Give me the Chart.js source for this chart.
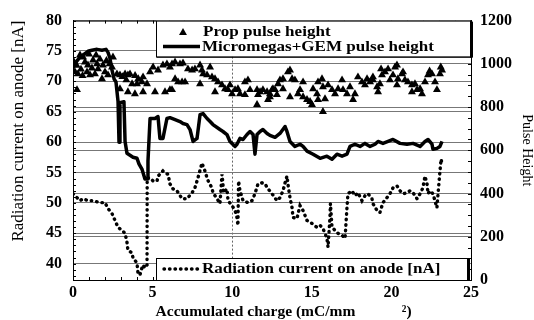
<!DOCTYPE html>
<html>
<head>
<meta charset="utf-8">
<script src="https://cdn.jsdelivr.net/npm/chart.js@4.4.0/dist/chart.umd.min.js"></script>
<style>
  html, body { margin: 0; padding: 0; background: #fff; }
  #wrap { width: 534px; height: 320px; }
</style>
</head>
<body>
<div id="wrap"><canvas id="chart" width="534" height="320"></canvas></div>
<script>
const xTicks = [0, 5, 10, 15, 20, 25];
const currentTicks = [40, 45, 50, 55, 60, 65, 70, 75, 80];
const pulseTicks = [0, 200, 400, 600, 800, 1000, 1200];

// Prop pulse height (triangles, right axis)
const propX = [0.23, 0.13, 0.31, 0.25, 0.63, 0.75, 0.94, 0.88, 1.07, 1.26, 1.51, 1.57, 1.38, 1.82, 1.88, 2.01, 2.2, 2.51, 2.45, 2.76,
  2.95, 3.27, 3.45, 3.58, 2.95, 3.45, 3.89, 3.71, 4.02, 4.33, 4.65, 4.4, 4.84, 5.03, 5.34, 5.65, 5.9, 6.09, 5.15, 5.78,
  6.09, 4.4, 0.44, 1.19, 1.69, 0.5, 2.3, 1.0, 3.1, 3.9, 4.1, 3.35, 0.05, 0.6, 1.45, 2.1,
  6.22, 6.41, 6.72, 6.91, 6.22, 6.41, 6.6, 6.85, 7.04, 7.22, 7.48, 7.66, 7.98, 8.1, 8.17, 8.42, 8.61, 8.73, 7.98, 8.92,
  9.11, 9.36, 8.92, 9.55, 9.74, 9.86, 9.99, 10.18, 10.36, 10.49, 10.8, 10.99, 11.12, 10.8, 11.56, 11.75, 11.62, 11.93, 12.19, 12.37,
  12.25, 11.56, 12.56,
  12.37, 12.69, 12.88, 13.0, 13.19, 13.5, 13.63, 13.76, 13.94, 14.13, 14.26, 14.45, 14.45, 14.7, 14.89, 15.01, 15.08, 15.33, 15.39, 15.64,
  15.7, 15.7, 15.39, 15.83, 16.02, 16.27, 16.46, 16.65, 16.9, 16.96, 17.21, 17.4, 17.59, 17.71, 17.9, 18.15, 18.34, 18.47, 18.66, 18.84,
  13.19, 12.5, 13.63, 12.81,
  18.84, 19.1, 19.16, 19.41, 19.6, 19.79, 19.91, 20.1, 20.23, 20.35, 20.41, 20.67, 20.73, 20.85, 21.04, 21.29, 21.48, 21.61, 21.8, 21.92,
  22.11, 22.3, 22.55, 22.74, 22.86, 23.05, 23.18, 19.28, 21.29, 20.35, 23.1, 19.35, 22.4];
const propY = [993, 962, 953, 880, 1031, 1008, 994, 962, 948, 1017, 999, 976, 953, 930, 994, 962, 948, 1031, 985, 953,
  948, 953, 948, 953, 884, 870, 861, 907, 907, 916, 907, 939, 962, 985, 971, 994, 999, 985, 870, 870,
  880, 870, 1040, 980, 1022, 975, 1000, 1045, 940, 945, 930, 925, 1010, 945, 1040, 1015,
  999, 1008, 999, 1003, 880, 930, 916, 916, 916, 976, 971, 976, 994, 971, 953, 948, 985, 939, 907, 930,
  916, 902, 870, 884, 880, 902, 861, 880, 884, 861, 916, 925, 880, 857, 880, 870, 857, 880, 870, 861,
  834, 811, 884,
  847, 880, 907, 925, 930, 962, 971, 930, 925, 861, 880, 916, 847, 834, 825, 811, 884, 861, 916, 930,
  893, 779, 834, 838, 902, 880, 861, 884, 925, 880, 861, 893, 834, 861, 939, 916, 902, 930, 916, 939,
  884, 880, 847, 857,
  925, 893, 870, 948, 962, 976, 925, 948, 985, 902, 930, 953, 962, 925, 916, 902, 907, 880, 884, 861,
  916, 948, 953, 916, 880, 953, 971, 907, 870, 994, 985, 976, 966];

// Micromegas+GEM pulse height (solid line, right axis)
const mmgX = [0, 0.19, 0.44, 0.69, 0.94, 1.19, 1.51, 1.82, 2.07, 2.2, 2.32, 2.45, 2.58, 2.7, 2.83, 2.89, 2.95, 3.2, 3.27, 3.39,
  3.58, 3.77, 4.02, 4.15, 4.33, 4.52, 4.65, 4.71, 4.84, 5.15, 5.34, 5.46, 5.65, 5.9, 6.09, 6.41, 6.72, 6.91, 7.16, 7.35,
  7.54, 7.79, 7.98, 8.17, 8.42, 8.61, 8.79, 9.23, 9.42, 9.67, 9.86, 10.18, 10.3, 10.49, 10.68, 10.93, 11.12, 11.31, 11.43, 11.56,
  11.75, 11.93, 12.19, 12.37, 12.69, 13.0, 13.32, 13.44, 13.63, 13.94, 14.26, 14.45, 14.7, 15.08, 15.52, 15.95, 16.27, 16.58, 16.9, 17.21,
  17.4, 17.71, 18.03, 18.34, 18.66, 18.97, 19.16, 19.47, 19.79, 20.1, 20.54, 20.98, 21.36, 21.8, 22.11, 22.3, 22.55, 22.61, 22.86, 23.05,
  23.18];
const mmgY = [980, 1008, 1031, 1044, 1058, 1063, 1067, 1063, 1067, 1053, 1026, 971, 930, 916, 825, 637, 820, 825, 641, 586,
  577, 568, 563, 536, 513, 467, 467, 550, 747, 747, 756, 655, 655, 747, 751, 742, 733, 724, 719, 696,
  641, 655, 765, 770, 747, 733, 719, 696, 687, 673, 641, 618, 628, 655, 650, 673, 687, 673, 582, 673,
  687, 696, 678, 669, 660, 678, 710, 687, 641, 618, 628, 618, 596, 582, 563, 573, 559, 582, 573, 582,
  618, 628, 618, 632, 618, 628, 641, 632, 641, 650, 632, 628, 632, 618, 641, 650, 628, 605, 609, 618,
  641];

// Radiation current on anode [nA] (dotted line, left axis)
const curX = [0, 0.25, 0.44, 0.63, 0.94, 1.26, 1.7, 2.01, 2.2, 2.45, 2.64, 2.83, 3.08, 3.27, 3.39, 3.45, 3.71, 3.77, 4.02, 4.08,
  4.2, 4.33, 4.4, 4.52, 4.65, 4.66, 4.84, 5.03, 5.28, 5.34, 5.65, 5.78, 5.97, 6.09, 6.28, 6.53, 6.85, 7.16, 7.48, 7.66,
  7.85, 8.1, 8.17, 8.29, 8.42, 8.54, 8.73, 8.79, 9.05, 9.23, 9.36, 9.42, 9.45, 9.67, 9.74, 9.99, 10.18, 10.3, 10.36, 10.4,
  10.49, 10.68, 10.99, 11.24, 11.43, 11.62, 11.87, 12.06, 12.25, 12.5, 12.81, 13.0, 13.19, 13.32, 13.44, 13.5, 13.63, 13.76, 13.82, 14.07,
  14.26, 14.45, 14.7, 15.01, 15.33, 15.52, 15.7, 15.95, 16.02, 16.14, 16.17, 16.27, 16.46, 16.65, 16.9, 17.09, 17.15, 17.21, 17.27, 17.52,
  17.71, 17.9, 18.15, 18.34, 18.53, 18.78, 18.84, 19.1, 19.28, 19.47, 19.72, 19.91, 20.1, 20.35, 20.54, 20.73, 20.98, 21.17, 21.36, 21.61,
  21.8, 21.98, 22.11, 22.24, 22.3, 22.43, 22.61, 22.86, 22.93, 23.05, 23.12, 23.18];
const curY = [51.5, 50.85, 50.36, 50.68, 50.36, 50.36, 50.03, 50.03, 49.06, 48.24, 47.1, 45.96, 45.47, 44.98, 43.52, 42.22, 41.73, 40.91, 40.1, 38.47,
  38.1, 39.28, 39.77, 39.28, 39.77, 54.1, 54.1, 53.6, 53.6, 54.4, 55.24, 54.9, 54.7, 53.13, 52.3, 51.99, 50.68, 50.68, 51.66, 52.48,
  54.1, 56.55, 56.06, 55.24, 54.1, 53.29, 52.48, 51.66, 50.68, 49.87, 54.7, 53.13, 51.66, 52.3, 50.36, 49.54, 48.73, 47.59, 46.29, 53.6,
  51.99, 50.36, 50.03, 50.36, 51.5, 53.13, 53.29, 53.13, 52.3, 51.5, 50.36, 50.85, 51.99, 53.29, 54.4, 53.13, 50.85, 49.2, 47.59, 47.43,
  49.54, 48.73, 47.1, 46.61, 45.96, 46.29, 45.8, 44.17, 42.7, 47.59, 49.87, 45.96, 45.47, 44.98, 44.67, 44.17, 46.78, 49.2, 51.5, 51.99,
  51.17, 51.66, 50.36, 51.17, 51.5, 50.68, 49.87, 48.73, 48.4, 50.03, 50.85, 51.5, 52.48, 52.8, 51.99, 51.5, 51.66, 51.99, 51.66, 50.68,
  51.5, 52.48, 54.4, 53.13, 51.5, 51.99, 51.5, 49.2, 51.5, 55.24, 57.2, 56.4];

const serif = '"Liberation Serif", "Times New Roman", serif';
const pts = (xs, ys) => xs.map((x, i) => ({ x: x, y: ys[i] }));

// frame top edge + small inward ticks
const frameTicks = {
  id: 'frameTicks',
  afterDatasetsDraw(chart) {
    const { ctx, chartArea: a, scales } = chart;
    ctx.save();
    ctx.strokeStyle = '#000';
    ctx.lineWidth = 1;
    ctx.beginPath();
    for (let v = 38; v <= 80; v++) {
      const y = Math.round(scales.y.getPixelForValue(v)) + 0.5;
      ctx.moveTo(a.left, y); ctx.lineTo(a.left + 3, y);
    }
    for (let v = 0; v <= 1200; v += 50) {
      const y = Math.round(scales.y1.getPixelForValue(v)) + 0.5;
      ctx.moveTo(a.right, y); ctx.lineTo(a.right - 3, y);
    }
    for (let v = 0; v <= 25; v++) {
      const x = Math.round(scales.x.getPixelForValue(v)) + 0.5;
      ctx.moveTo(x, a.top); ctx.lineTo(x, a.top + 3);
      ctx.moveTo(x, a.bottom); ctx.lineTo(x, a.bottom - 3);
    }
    ctx.moveTo(a.left, a.top + 0.5); ctx.lineTo(a.right, a.top + 0.5);
    ctx.stroke();
    ctx.restore();
  }
};

// the two boxed legends of the original figure
const boxLegends = {
  id: 'boxLegends',
  afterDraw(chart) {
    const { ctx, chartArea: a } = chart;
    const ds = chart.data.datasets;
    const bx = a.left + 83;

    const box = (x, y, w, h) => {
      ctx.fillStyle = '#fff';
      ctx.fillRect(x, y, w, h);
      ctx.fillStyle = '#000';
      ctx.fillRect(x + w, y + 1, 3, h);
      ctx.fillRect(x + 1, y + h, w, 1);
      ctx.strokeStyle = '#000';
      ctx.lineWidth = 1;
      ctx.strokeRect(x + 0.5, y + 0.5, w, h);
    };
    const label = (text, x, y) => {
      ctx.save();
      ctx.translate(x, y);
      ctx.scale(1.1, 1);
      ctx.font = 'bold 15.5px ' + serif;
      ctx.textBaseline = 'middle';
      ctx.fillStyle = '#000';
      ctx.fillText(text, 0, 0);
      ctx.restore();
    };

    ctx.save();
    // upper legend
    box(bx, a.top, 314, 36);
    const r = ds[0].pointRadius;
    const tx = bx + 27, ty = a.top + 12;
    ctx.fillStyle = '#000';
    ctx.beginPath();
    ctx.moveTo(tx, ty - r);
    ctx.lineTo(tx + r * 0.866, ty + r * 0.5);
    ctx.lineTo(tx - r * 0.866, ty + r * 0.5);
    ctx.closePath();
    ctx.fill();
    label(ds[0].label, bx + 47, a.top + 11);

    ctx.strokeStyle = '#000';
    ctx.lineWidth = ds[1].borderWidth;
    ctx.beginPath();
    ctx.moveTo(bx + 7, a.top + 26); ctx.lineTo(bx + 44, a.top + 26);
    ctx.stroke();
    label(ds[1].label, bx + 46, a.top + 26);

    // lower legend
    box(bx, a.bottom - 22, 311, 22);
    ctx.lineWidth = ds[2].borderWidth;
    ctx.lineCap = 'round';
    ctx.setLineDash(ds[2].borderDash);
    ctx.beginPath();
    ctx.moveTo(bx + 8, a.bottom - 11); ctx.lineTo(bx + 43, a.bottom - 11);
    ctx.stroke();
    ctx.setLineDash([]);
    label(ds[2].label, bx + 46, a.bottom - 11);
    ctx.restore();
  }
};

new Chart(document.getElementById('chart'), {
  type: 'scatter',
  data: {
    datasets: [
      {
        label: 'Prop pulse height',
        data: pts(propX, propY),
        yAxisID: 'y1',
        pointStyle: 'triangle',
        pointRadius: 4.6,
        backgroundColor: '#000',
        borderWidth: 0,
        showLine: false
      },
      {
        label: 'Micromegas+GEM pulse height',
        data: pts(mmgX, mmgY),
        yAxisID: 'y1',
        showLine: true,
        borderColor: '#000',
        borderWidth: 3.5,
        borderJoinStyle: 'round',
        pointRadius: 0,
        tension: 0
      },
      {
        label: 'Radiation current on anode [nA]',
        data: pts(curX, curY),
        yAxisID: 'y',
        showLine: true,
        borderColor: '#000',
        borderWidth: 3.4,
        borderDash: [0.5, 5],
        borderCapStyle: 'round',
        pointRadius: 0,
        tension: 0
      }
    ]
  },
  options: {
    responsive: false,
    animation: false,
    devicePixelRatio: 1,
    layout: { padding: { top: 19, left: 0, right: 0, bottom: 0 } },
    plugins: { legend: { display: false }, tooltip: { enabled: false } },
    scales: {
      x: {
        type: 'linear',
        position: 'bottom',
        min: 0,
        max: 25,
        afterBuildTicks: s => { s.ticks = xTicks.map(v => ({ value: v })); },
        afterFit: s => { s.height = 40; },
        ticks: { color: '#000', padding: 3, font: { family: serif, size: 16, weight: 'bold' }, callback: v => String(v) },
        grid: {
          drawTicks: false,
          color: c => (c.tick && c.tick.value === 10 ? '#666' : 'rgba(0,0,0,0)')
        },
        border: { color: '#000', width: 1, dash: [2, 2] },
        title: {
          display: true,
          text: '\u00a0\u00a0\u00a0\u00a0\u00a0\u00a0Accumulated charge (mC/mm\u00a0\u00a0\u00a0\u00a0\u00a0\u00a0\u00a0\u00a0\u00a0\u00a0\u00a0\u00a0\u00b2)',
          color: '#000',
          font: { family: serif, size: 15.5, weight: 'bold', lineHeight: 1 },
          padding: { top: 0, bottom: 0 }
        }
      },
      y: {
        type: 'linear',
        position: 'left',
        min: 37.3,
        max: 80,
        afterBuildTicks: s => { s.ticks = currentTicks.map(v => ({ value: v })); },
        afterFit: s => { s.width = 73; },
        ticks: { color: '#000', padding: 11, font: { family: serif, size: 16, weight: 'bold' }, callback: v => String(v) },
        grid: { drawTicks: false, color: '#777' },
        border: { color: '#000', width: 1 },
        title: {
          display: true,
          text: 'Radiation current on anode [nA]',
          align: 'end',
          color: '#000',
          font: { family: serif, size: 17, lineHeight: 1.2 },
          padding: { top: 8, bottom: 0 }
        }
      },
      y1: {
        type: 'linear',
        position: 'right',
        min: 0,
        max: 1200,
        afterBuildTicks: s => { s.ticks = pulseTicks.map(v => ({ value: v })); },
        afterFit: s => { s.width = 63; },
        ticks: { color: '#000', padding: 9, font: { family: serif, size: 16, weight: 'bold' }, callback: v => String(v) },
        grid: { drawTicks: false, color: '#777' },
        border: { color: '#000', width: 1 },
        title: {
          display: true,
          text: 'Pulse Height',
          color: '#000',
          font: { family: serif, size: 14, lineHeight: 1 },
          padding: { top: 0, bottom: 0 }
        }
      }
    }
  },
  plugins: [frameTicks, boxLegends]
});
</script>
</body>
</html>
